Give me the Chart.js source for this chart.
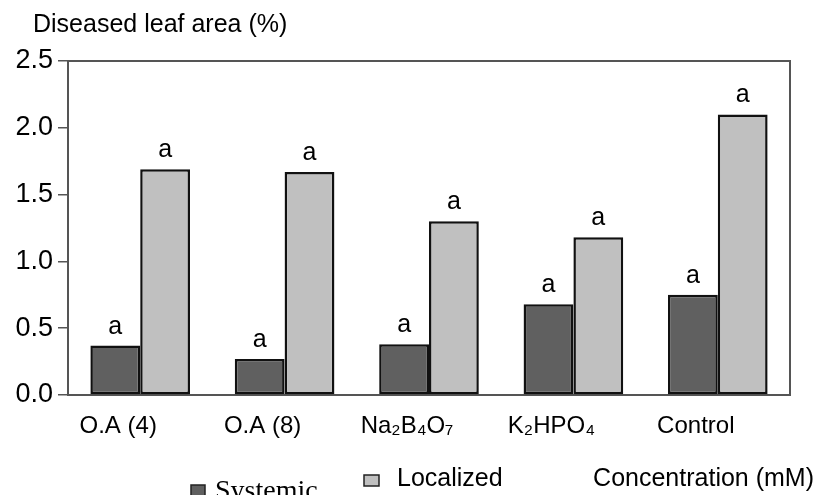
<!DOCTYPE html>
<html>
<head>
<meta charset="utf-8">
<script src="https://cdn.jsdelivr.net/npm/chart.js@4.4.1/dist/chart.umd.min.js"></script>
<style>
  body { margin: 0; background: #fff; }
  #wrap { width: 819px; height: 495px; }
</style>
</head>
<body>
<div id="wrap"><canvas id="barChart" width="819" height="495"></canvas></div>
<script>
// Daten
const categories = ['O.A (4)', 'O.A (8)', 'Na\u2082B\u2084O\u2087', 'K\u2082HPO\u2084', 'Control'];
const systemic = [0.37, 0.27, 0.38, 0.68, 0.75];
const localized = [1.69, 1.67, 1.30, 1.18, 2.10];
const systemicLetters = ['a', 'a', 'a', 'a', 'a'];
const localizedLetters = ['a', 'a', 'a', 'a', 'a'];
const yTicks = [0, 0.5, 1.0, 1.5, 2.0, 2.5];

const sans = "'Liberation Sans', Arial, sans-serif";
const serif = "'Liberation Serif', 'Times New Roman', serif";

// Buchstaben ueber den Balken + Rahmen + Titel + Legende
const extras = {
    id: 'extras',
    afterDatasetsDraw(chart) {
        const ctx = chart.ctx;
        const area = chart.chartArea;
        ctx.save();
        // Rahmen oben/rechts
        ctx.strokeStyle = '#555';
        ctx.lineWidth = 2;
        ctx.beginPath();
        ctx.moveTo(area.left, area.top);
        ctx.lineTo(area.right, area.top);
        ctx.lineTo(area.right, area.bottom);
        ctx.stroke();

        // Buchstaben
        ctx.fillStyle = '#000';
        ctx.font = '25px ' + sans;
        ctx.textAlign = 'center';
        ctx.textBaseline = 'alphabetic';
        const letters = [systemicLetters, localizedLetters];
        chart.data.datasets.forEach((ds, i) => {
            chart.getDatasetMeta(i).data.forEach((bar, j) => {
                ctx.fillText(letters[i][j], bar.x, bar.y - 12);
            });
        });

        // y-Achsentitel
        ctx.textAlign = 'left';
        ctx.font = '25px ' + sans;
        ctx.fillText('Diseased leaf area (%)', 33, 32);

        // x-Achsentitel
        ctx.textAlign = 'right';
        ctx.font = '25px ' + sans;
        ctx.fillText('Concentration (mM)', 814, 486);

        // Legende
        const d = chart.data.datasets;
        ctx.lineWidth = 1.5;
        ctx.strokeStyle = '#222';
        ctx.fillStyle = d[0].backgroundColor;
        ctx.fillRect(191, 485, 14, 12);
        ctx.strokeRect(191, 485, 14, 12);
        ctx.fillStyle = d[1].backgroundColor;
        ctx.fillRect(364, 475, 15, 11);
        ctx.strokeRect(364, 475, 15, 11);
        ctx.fillStyle = '#000';
        ctx.textAlign = 'left';
        ctx.font = '28px ' + serif;
        ctx.fillText(d[0].label, 215, 499);
        ctx.font = '25px ' + sans;
        ctx.fillText(d[1].label, 397, 486);
        ctx.restore();
    }
};

const ctx = document.getElementById('barChart').getContext('2d');
const myChart = new Chart(ctx, {
    type: 'bar',
    data: {
        labels: categories,
        datasets: [{
            label: 'Systemic',
            data: systemic,
            backgroundColor: '#606060',
            borderColor: '#111',
            borderWidth: 2.5,
            borderSkipped: false
        }, {
            label: 'Localized',
            data: localized,
            backgroundColor: '#c0c0c0',
            borderColor: '#111',
            borderWidth: 2.5,
            borderSkipped: false
        }]
    },
    options: {
        responsive: false,
        animation: false,
        layout: { padding: { top: 61, right: 29, left: 0, bottom: 0 } },
        plugins: {
            legend: { display: false },
            tooltip: { enabled: false }
        },
        datasets: {
            bar: { categoryPercentage: 0.69, barPercentage: 1.0 }
        },
        scales: {
            x: {
                grid: { display: false, drawTicks: false },
                border: { display: true, color: '#555', width: 2 },
                ticks: {
                    color: '#000',
                    font: { family: sans, size: 24 },
                    padding: 17,
                    labelOffset: -22,
                    maxRotation: 0,
                    autoSkip: false
                },
                afterFit(scale) { scale.height = 100; }
            },
            y: {
                min: 0,
                max: 2.5,
                afterBuildTicks(scale) { scale.ticks = yTicks.map(v => ({ value: v })); },
                grid: { drawOnChartArea: false, tickLength: 10, color: '#555', lineWidth: 1.5 },
                border: { display: true, color: '#555', width: 2 },
                ticks: {
                    color: '#000',
                    font: { family: sans, size: 27 },
                    padding: 5,
                    callback: v => v.toFixed(1)
                },
                afterFit(scale) { scale.width = 68; }
            }
        }
    },
    plugins: [extras]
});
</script>
</body>
</html>
